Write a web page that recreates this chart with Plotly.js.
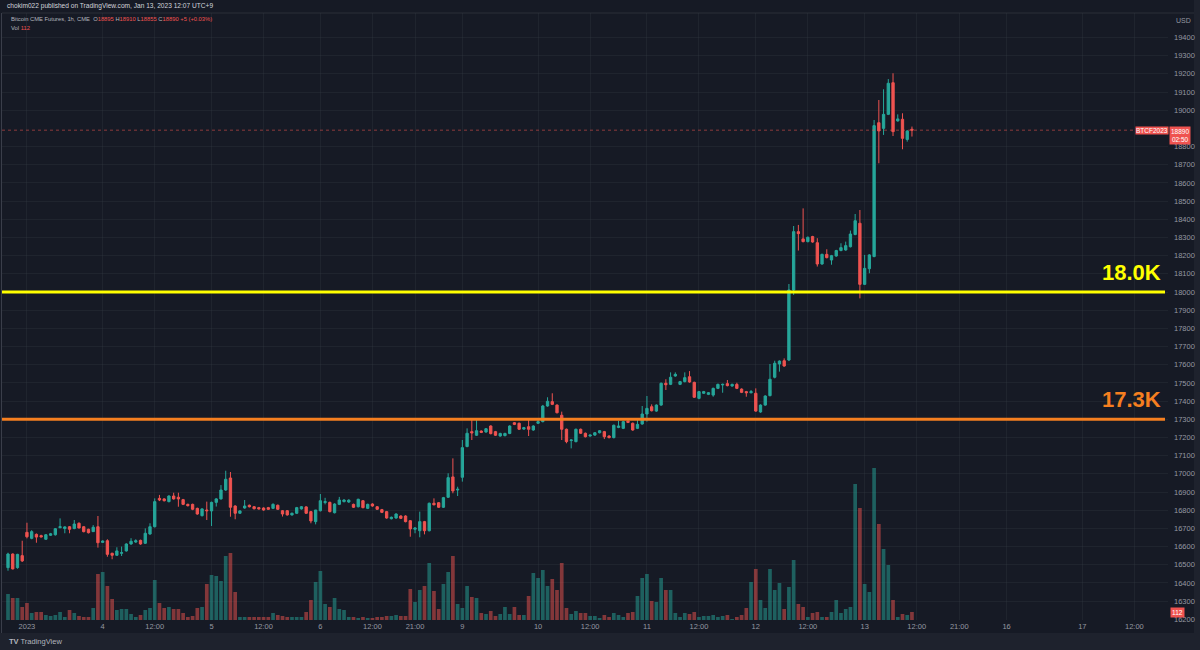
<!DOCTYPE html>
<html>
<head>
<meta charset="utf-8">
<script src="https://cdn.plot.ly/plotly-3.0.1.min.js"></script>
<style>
html,body{margin:0;padding:0;background:#1e222d;}
#chart{width:1200px;height:650px;}
</style>
</head>
<body>
<div id="chart"></div>
<script>
// ---- Data (Bitcoin CME Futures, 1h, CME) ----
const openP = [16484,16559,16484,16550,16678,16645,16667,16660,16640,16662,16665,16704,16699,16709,16699,16728,16709,16695,16682,16709,
16623,16632,16563,16552,16563,16576,16614,16625,16634,16618,16669,16709,16865,16862,16847,16878,16871,16858,16832,16832,
16810,16770,16801,16796,16843,16862,16911,16977,16823,16783,16812,16827,16819,16814,16812,16814,16810,16827,16797,16797,
16774,16783,16807,16818,16792,16737,16797,16842,16843,16786,16832,16847,16845,16832,16819,16852,16810,16834,16819,16803,
16792,16753,16757,16768,16768,16742,16695,16687,16737,16687,16838,16841,16816,16871,16983,16911,16981,17150,17232,17212,
17235,17230,17263,17232,17208,17210,17222,17281,17278,17246,17259,17241,17278,17287,17373,17397,17378,17322,17245,17183,
17177,17245,17223,17208,17213,17226,17232,17208,17199,17255,17250,17290,17278,17250,17274,17329,17369,17345,17378,17498,
17492,17538,17492,17507,17534,17503,17415,17443,17437,17433,17470,17489,17496,17483,17492,17466,17452,17446,17443,17340,
17378,17430,17531,17604,17622,17626,18011,18332,18292,18277,18305,18271,18154,18207,18176,18198,18228,18231,18249,18316,
18378,18042,18128,18195,18931,18900,18977,19151,18941,18950,18839,18895];
const highP = [16566,16562,16560,16632,16731,16690,16672,16665,16668,16675,16702,16755,16712,16713,16746,16733,16712,16698,16718,16768,
16634,16640,16566,16596,16600,16618,16646,16640,16638,16700,16728,16865,16884,16866,16882,16896,16896,16862,16836,16836,
16814,16811,16847,16847,16866,16938,17017,17010,16827,16800,16856,16831,16823,16818,16816,16818,16838,16831,16801,16801,
16787,16818,16823,16822,16796,16801,16889,16868,16847,16838,16873,16860,16860,16836,16863,16856,16836,16838,16823,16807,
16796,16765,16783,16772,16772,16746,16706,16792,16741,16842,16865,16845,16873,17003,17085,16929,17186,17250,17296,17296,
17239,17252,17267,17236,17226,17226,17267,17285,17282,17258,17300,17267,17300,17379,17421,17443,17382,17342,17249,17190,
17249,17249,17227,17216,17230,17241,17236,17212,17271,17292,17291,17294,17282,17296,17373,17428,17382,17382,17502,17520,
17558,17558,17511,17558,17565,17507,17456,17456,17450,17474,17496,17496,17516,17496,17501,17470,17456,17461,17470,17382,
17432,17604,17622,17624,17635,18044,18363,18369,18460,18305,18309,18296,18211,18235,18204,18232,18268,18277,18338,18429,
18451,18204,18208,18946,19056,19115,19171,19203,18977,18983,18891,18910];
const lowP = [16467,16474,16478,16515,16645,16640,16621,16650,16638,16658,16660,16700,16673,16673,16695,16700,16678,16672,16680,16594,
16620,16544,16530,16548,16548,16572,16610,16620,16610,16614,16665,16705,16850,16848,16843,16858,16819,16828,16820,16800,
16775,16765,16746,16713,16820,16858,16906,16764,16750,16779,16808,16815,16804,16803,16797,16801,16806,16801,16765,16770,
16770,16779,16803,16779,16728,16722,16793,16832,16788,16782,16828,16843,16840,16812,16815,16810,16806,16819,16801,16784,
16753,16749,16753,16751,16733,16654,16673,16651,16667,16683,16826,16812,16812,16867,16893,16878,16957,17146,17186,17208,
17224,17226,17217,17208,17204,17206,17218,17268,17241,17242,17208,17237,17274,17283,17369,17378,17332,17186,17168,17140,
17173,17219,17200,17204,17209,17222,17191,17195,17195,17251,17246,17279,17237,17246,17270,17287,17343,17341,17374,17461,
17488,17534,17488,17503,17501,17417,17410,17439,17433,17424,17466,17446,17481,17479,17466,17444,17424,17442,17341,17336,
17374,17426,17525,17562,17589,17620,17984,18228,18273,18273,18271,18140,18150,18185,18150,18194,18224,18227,18245,18312,
17965,18038,18103,18191,18708,18864,18973,18858,18937,18785,18827,18855];
const closeP = [16559,16477,16557,16521,16654,16682,16652,16653,16665,16670,16698,16709,16708,16695,16724,16702,16682,16676,16706,16621,
16630,16557,16552,16576,16566,16614,16629,16632,16614,16673,16709,16847,16856,16852,16878,16862,16862,16832,16825,16805,
16779,16807,16797,16843,16862,16911,16970,16816,16783,16796,16823,16819,16808,16807,16801,16805,16832,16805,16779,16774,
16783,16814,16819,16783,16741,16801,16852,16847,16792,16834,16856,16856,16855,16816,16860,16814,16832,16823,16805,16788,
16757,16761,16779,16755,16737,16697,16702,16737,16687,16838,16830,16816,16869,16979,16906,16915,17144,17223,17225,17237,
17228,17248,17221,17212,17222,17222,17263,17272,17245,17254,17245,17263,17287,17373,17399,17382,17336,17245,17177,17186,
17245,17223,17204,17213,17226,17237,17204,17199,17267,17263,17287,17283,17241,17272,17329,17360,17347,17378,17498,17490,
17531,17547,17507,17529,17505,17421,17452,17452,17446,17470,17492,17492,17485,17492,17470,17448,17446,17452,17345,17378,
17428,17520,17608,17620,17593,18011,18332,18321,18277,18301,18275,18154,18207,18189,18200,18228,18244,18255,18319,18392,
18042,18130,18204,18915,18886,18977,19148,18882,18952,18845,18885,18890];
const volume = [364,308,308,182,238,98,112,112,70,56,70,112,42,140,98,56,42,42,168,644,
672,476,294,140,154,154,84,42,70,140,168,560,238,168,182,154,154,98,42,56,
168,182,504,630,616,546,896,938,392,42,42,42,42,42,42,42,98,70,56,42,
42,42,42,112,280,532,686,224,182,308,154,140,42,42,28,42,28,28,42,42,
56,56,70,56,56,434,252,420,476,798,406,154,504,672,896,224,168,476,322,308,
98,84,126,56,84,182,84,182,70,70,336,658,588,700,476,574,420,798,168,84,
126,98,98,56,56,28,70,42,98,70,42,98,112,336,588,644,266,252,588,420,
420,98,42,98,84,112,42,56,56,70,42,56,70,14,42,70,168,532,714,280,
168,714,420,518,154,462,840,224,182,42,98,112,42,42,112,280,98,154,182,1904,
1568,504,392,2128,1344,994,770,280,42,84,70,112];

// Axis labels (bar index -> label)
const tickIdx  = [4, 20, 31, 43, 54, 66, 77, 86, 96, 112, 123, 135, 146, 158, 169, 181, 192, 201, 211, 227, 238];
const tickText = ['2023','4','12:00','5','12:00','6','12:00','21:00','9','10','12:00','11','12:00','12','12:00','13','12:00','21:00','16','17','12:00'];
const priceTickMin = 16200, priceTickMax = 19400, priceTickStep = 100;

// Horizontal level lines
const levels      = [18000, 17300];
const levelLabels = ['18.0K', '17.3K'];

const symbolName = 'Bitcoin CME Futures, 1h, CME';
const publisher  = 'chokim022 published on TradingView.com, Jan 13, 2023 12:07 UTC+9';
const lastVolLabel = '112';
const countdown = '02:50';

// ---- Styles ----
const UP = '#26a69a', DN = '#ef5350';
const UPV = 'rgba(38,166,154,0.5)', DNV = 'rgba(239,83,80,0.5)';
const levelColors = ['#ffff00', '#f57f20'];
const BG = '#161a25';
const GRID = 'rgba(54,58,69,0.30)';
const TXT = '#9598a1';

// plot geometry (pixels)
const W = 1200, H = 650, L = 2, R = 32, T = 13, B = 30;
const PW = W - L - R, PH = H - T - B;
const px2paperX = px => (px - L) / PW;
const px2paperY = py => (H - B - py) / PH;

const idx = openP.map((_, i) => i);
const volColors = openP.map((o, i) => closeP[i] >= o ? UPV : DNV);
const n = closeP.length;
const lastO = openP[n-1], lastH = highP[n-1], lastL = lowP[n-1], lastC = closeP[n-1];
const chg = lastC - closeP[n-2];
const chgPct = (chg / closeP[n-2] * 100).toFixed(2);

// price ticks (the one hidden by the last-price label in the reference is skipped)
const priceTicks = [];
for (let v = priceTickMin; v <= priceTickMax; v += priceTickStep) {
  if (Math.abs(v - lastC) > 40) priceTicks.push(v);
}

const candle = {
  type: 'candlestick', x: idx, open: openP, high: highP, low: lowP, close: closeP,
  increasing: {line: {color: UP, width: 1}, fillcolor: UP},
  decreasing: {line: {color: DN, width: 1}, fillcolor: DN},
  whiskerwidth: 0, hoverinfo: 'none', showlegend: false, xaxis: 'x', yaxis: 'y'
};
const vol = {
  type: 'bar', x: idx, y: volume, marker: {color: volColors, line: {width: 0}},
  hoverinfo: 'none', showlegend: false, xaxis: 'x', yaxis: 'y2'
};

const shapes = [
  {type: 'rect', xref: 'paper', yref: 'paper', x0: px2paperX(0), x1: px2paperX(1194), y0: px2paperY(633), y1: px2paperY(0),
   fillcolor: BG, line: {width: 0}, layer: 'below'},
  {type: 'line', xref: 'paper', yref: 'paper', x0: px2paperX(2), x1: px2paperX(1194), y0: px2paperY(13), y1: px2paperY(13),
   line: {color: '#2a2e39', width: 1}, layer: 'below'},
  {type: 'line', xref: 'paper', yref: 'paper', x0: px2paperX(1.5), x1: px2paperX(1.5), y0: px2paperY(633), y1: px2paperY(13),
   line: {color: '#3a3e4a', width: 1}, layer: 'below'},
  {type: 'line', xref: 'paper', yref: 'y', x0: 0, x1: 1, y0: lastC, y1: lastC,
   line: {color: 'rgba(239,83,80,0.55)', width: 1, dash: 'dot'}}
];
levels.forEach((lv, k) => {
  shapes.push({type: 'line', xref: 'paper', yref: 'y', x0: 0, x1: px2paperX(1165), y0: lv, y1: lv,
    line: {color: levelColors[k], width: 3}});
});

const red = s => '<span style="color:#ef5350">' + s + '</span>';
const sgn = chg >= 0 ? '+' : '';
const annotations = [
  {xref: 'paper', yref: 'paper', x: px2paperX(5), y: px2paperY(6), xanchor: 'left', yanchor: 'middle', showarrow: false,
   text: publisher, font: {family: 'Liberation Sans', size: 6.6, color: '#d1d4dc'}},
  {xref: 'paper', yref: 'paper', x: px2paperX(9), y: px2paperY(19), xanchor: 'left', yanchor: 'middle', showarrow: false,
   text: symbolName + '  O' + red(lastO) + ' H' + red(lastH) + ' L' + red(lastL) + ' C' + red(lastC) + ' ' + red(sgn + chg + ' (' + sgn + chgPct + '%)'),
   font: {family: 'Liberation Sans', size: 5.8, color: '#b2b5be'}},
  {xref: 'paper', yref: 'paper', x: px2paperX(9), y: px2paperY(28), xanchor: 'left', yanchor: 'middle', showarrow: false,
   text: 'Vol ' + red(lastVolLabel), font: {family: 'Liberation Sans', size: 5.8, color: '#b2b5be'}},
  {xref: 'paper', yref: 'paper', x: px2paperX(1174), y: px2paperY(20), xanchor: 'left', yanchor: 'middle', showarrow: false,
   text: 'USD', font: {family: 'Liberation Sans', size: 7, color: TXT}},
  {xref: 'paper', yref: 'y', x: px2paperX(1169), y: lastC, xanchor: 'left', yanchor: 'top', yshift: 4, showarrow: false,
   text: lastC + '<br>' + countdown, align: 'center', bgcolor: '#ef5350', borderpad: 1,
   font: {family: 'Liberation Sans', size: 6.5, color: '#ffffff'}},
  {xref: 'paper', yref: 'y', x: px2paperX(1169), y: lastC, xanchor: 'right', yanchor: 'top', yshift: 4, showarrow: false,
   text: 'BTCF2023', bgcolor: '#ef5350', borderpad: 0,
   font: {family: 'Liberation Sans', size: 6.5, color: '#ffffff'}},
  {xref: 'paper', yref: 'paper', x: px2paperX(1170), y: px2paperY(612), xanchor: 'left', yanchor: 'middle', showarrow: false,
   text: lastVolLabel, bgcolor: '#ef5350', borderpad: 1,
   font: {family: 'Liberation Sans', size: 6.5, color: '#ffffff'}},
  {xref: 'paper', yref: 'paper', x: px2paperX(7), y: px2paperY(641), xanchor: 'left', yanchor: 'middle', showarrow: false,
   text: '<b>TV</b> TradingView', font: {family: 'Liberation Sans', size: 7.5, color: '#b2b5be'}}
];
levels.forEach((lv, k) => {
  annotations.push({xref: 'paper', yref: 'y', x: px2paperX(1163), y: lv, xanchor: 'right', yanchor: 'bottom', yshift: 5,
    showarrow: false, text: levelLabels[k],
    font: {family: 'Liberation Sans', size: 22, color: levelColors[k], weight: 'bold'}});
});

const layout = {
  width: W, height: H,
  margin: {l: L, r: R, t: T, b: B, pad: 0},
  paper_bgcolor: '#1e222d', plot_bgcolor: 'rgba(0,0,0,0)',
  showlegend: false, bargap: 0.22, dragmode: false,
  xaxis: {
    range: [-1.27, 245.1], rangeslider: {visible: false}, type: 'linear',
    tickmode: 'array', tickvals: tickIdx, ticktext: tickText,
    showgrid: true, gridcolor: GRID, gridwidth: 1, zeroline: false, showline: false, ticks: '',
    tickfont: {family: 'Liberation Sans', size: 7.5, color: TXT}, fixedrange: true
  },
  yaxis: {
    side: 'right', range: [16196, 19534.5], tickmode: 'array', tickvals: priceTicks, tickformat: 'd',
    showgrid: true, gridcolor: GRID, gridwidth: 1, zeroline: false, showline: false, ticks: '',
    ticklabelstandoff: 5,
    tickfont: {family: 'Liberation Sans', size: 7.5, color: TXT}, fixedrange: true
  },
  yaxis2: {
    overlaying: 'y', anchor: 'x', side: 'right', range: [0, 8498], visible: false, showgrid: false, fixedrange: true
  },
  shapes: shapes, annotations: annotations
};

Plotly.newPlot('chart', [vol, candle], layout, {staticPlot: true, displayModeBar: false});
</script>
</body>
</html>
